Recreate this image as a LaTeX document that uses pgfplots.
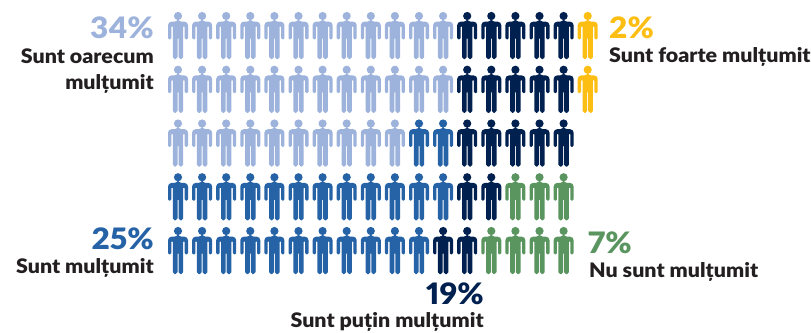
\documentclass[border=0pt]{standalone}
\usepackage{pgfplots}
\usepackage{pgfplotstable}
\usepackage{fontspec}
\setmainfont{Lato Black}[FakeStretch=1.07, Numbers=Proportional]
\pgfplotsset{compat=1.18}

\definecolor{lightblue}{HTML}{9DB3DC}
\definecolor{midblue}{HTML}{2563A6}
\definecolor{navy}{HTML}{00204F}
\definecolor{leaf}{HTML}{5A9560}
\definecolor{gold}{HTML}{FDBE14}
\definecolor{ink}{HTML}{231F20}

\tikzset{pct/.style={font=\fontsize{29.5}{30}\selectfont, inner sep=0pt},
         answer/.style={font=\fontsize{20}{20}\selectfont, text=ink, inner sep=0pt}}

% One person: origin at the centre of the head
\pgfdeclareplotmark{person}{%
  \pgfpathcircle{\pgfpointorigin}{4.1pt}%
  \pgfusepathqfill
  \fill[draw=none]
    (0,-5.7pt) [rounded corners=3.5pt] -- (-10pt,-5.7pt)
    [rounded corners=1.3pt] -- (-10pt,-23.4pt) -- (-6.7pt,-23.4pt)
    [rounded corners=0.5pt] -- (-6.7pt,-10.5pt) -- (-5.2pt,-10.5pt)
    [rounded corners=1.8pt] -- (-5.2pt,-43pt) -- (-0.5pt,-43pt)
    [sharp corners] -- (-0.5pt,-22.5pt) -- (0.5pt,-22.5pt)
    [rounded corners=1.8pt] -- (0.5pt,-43pt) -- (5.2pt,-43pt)
    [rounded corners=0.5pt] -- (5.2pt,-10.5pt) -- (6.7pt,-10.5pt)
    [rounded corners=1.3pt] -- (6.7pt,-23.4pt) -- (10pt,-23.4pt)
    [rounded corners=3.5pt] -- (10pt,-5.7pt) -- (0,-5.7pt) -- cycle;
}

% Column and row of every figure, one table per answer
\pgfplotstableread{
col row
0 0
1 0
2 0
3 0
4 0
5 0
6 0
7 0
8 0
9 0
10 0
11 0
0 1
1 1
2 1
3 1
4 1
5 1
6 1
7 1
8 1
9 1
10 1
11 1
0 2
1 2
2 2
3 2
4 2
5 2
6 2
7 2
8 2
9 2
}\tblSomewhat
\pgfplotstableread{
col row
10 2
11 2
0 3
1 3
2 3
3 3
4 3
5 3
6 3
7 3
8 3
9 3
10 3
11 3
0 4
1 4
2 4
3 4
4 4
5 4
6 4
7 4
8 4
9 4
10 4
}\tblSatisfied
\pgfplotstableread{
col row
12 0
13 0
14 0
15 0
16 0
12 1
13 1
14 1
15 1
16 1
12 2
13 2
14 2
15 2
16 2
12 3
13 3
11 4
12 4
}\tblLittle
\pgfplotstableread{
col row
14 3
15 3
16 3
13 4
14 4
15 4
16 4
}\tblNot
\pgfplotstableread{
col row
17 0
17 1
}\tblVery

\newcommand{\persons}[2]{%
  \addplot[only marks, mark=person, color=#1, mark options={fill=#1, draw=none}]
    table[x expr=178+24.1*\thisrow{col}, y expr=16+53.75*\thisrow{row}] {#2};
}

\begin{document}
\begin{tikzpicture}
\begin{axis}[
  width=811pt, height=332pt, scale only axis,
  xmin=0, xmax=811, ymin=0, ymax=332, y dir=reverse,
  hide axis, clip=false,
]
\persons{lightblue}{\tblSomewhat}
\persons{midblue}{\tblSatisfied}
\persons{navy}{\tblLittle}
\persons{leaf}{\tblNot}
\persons{gold}{\tblVery}

\path (axis cs:0,0) (axis cs:811,332);

\node[pct, anchor=base east, text=lightblue] at (axis cs:154,38) {34\%};
\node[answer, anchor=base east] at (axis cs:154,63) {Sunt oarecum};
\node[answer, anchor=base east] at (axis cs:154,89) {mulțumit};
\node[pct, anchor=base west, text=gold] at (axis cs:609,38) {2\%};
\node[answer, anchor=base west] at (axis cs:609,62) {Sunt foarte mulțumit};
\node[pct, anchor=base east, text=midblue] at (axis cs:154,249) {25\%};
\node[answer, anchor=base east] at (axis cs:154,273) {Sunt mulțumit};
\node[pct, anchor=base west, text=leaf] at (axis cs:588,253) {7\%};
\node[answer, anchor=base west] at (axis cs:589,277) {Nu sunt mulțumit};
\node[pct, anchor=base east, text=navy] at (axis cs:484,304) {19\%};
\node[answer, anchor=base east] at (axis cs:484,327) {Sunt puțin mulțumit};
\end{axis}
\end{tikzpicture}
\end{document}
